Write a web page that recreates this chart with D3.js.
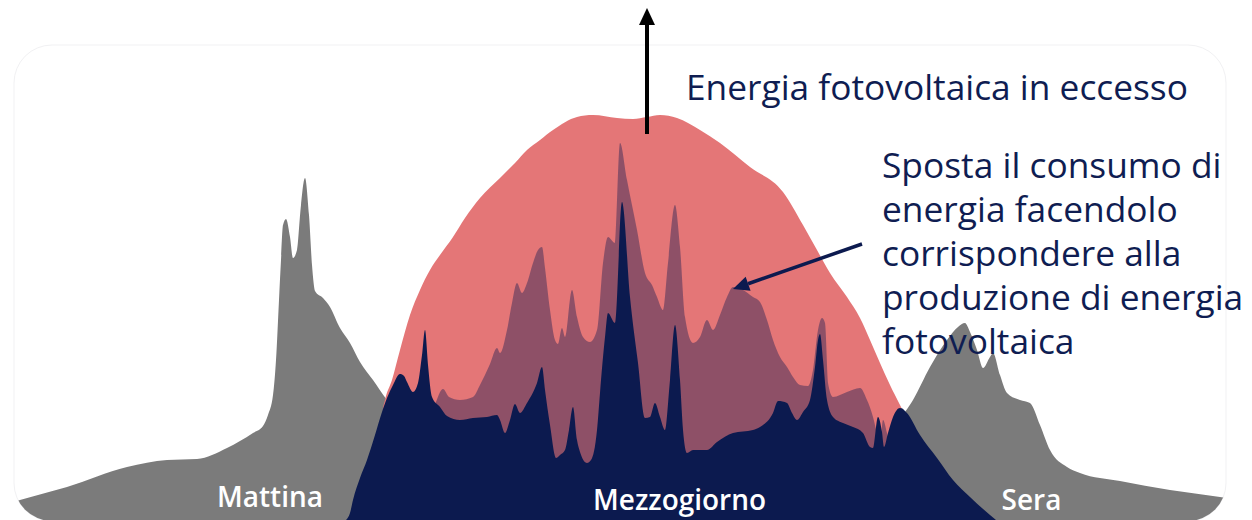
<!DOCTYPE html>
<html><head><meta charset="utf-8">
<script src="https://cdn.jsdelivr.net/npm/d3@7"></script>
<style>html,body{margin:0;padding:0;background:#fff;} svg{display:block;}</style>
</head><body>
<svg id="chart" width="1252" height="520"></svg>
<script>
// ---- DATA: [hour of day, power (arbitrary units)] ----
const consumoOriginale = [
  [-0.16,4.25],[0.04,5],[0.98,8.25],[2.18,13.25],[2.98,15],[3.58,15.25],[4.18,18],[4.70,21.75],
  [4.90,23.5],[5.00,26.25],[5.10,31.25],[5.16,40],[5.22,55],[5.26,65],[5.30,73.75],[5.36,75.25],
  [5.44,70.75],[5.50,65.5],[5.58,67.5],[5.66,78.75],[5.74,85.5],[5.82,76.25],[5.88,63.75],[5.94,57.25],
  [6.10,55.5],[6.24,53.25],[6.44,48],[6.64,44.25],[6.84,39.5],[7.10,35],[7.38,30],
  [8.04,22.5],[9.64,18.75],[12.64,16.25],[15.64,17.5],[17.24,22.5],
  [17.74,27],[17.90,30],[18.24,38.25],[18.58,45],[18.80,48.25],[18.94,49.25],[19.04,47],[19.18,42.5],
  [19.30,38],[19.44,40.75],[19.50,41.75],[19.64,36.25],[19.78,31.75],[20.04,30],[20.24,29.25],
  [20.44,23.75],[20.64,17.5],[20.98,13.25],[21.24,11.75],[22.04,9.75],[23.04,7.5],[24.04,5.75],[24.44,5]
];
const produzioneFV = [
  [7.20,0],[7.30,27.5],[7.34,30],[7.48,35],[7.64,42.5],[7.84,51.25],[8.04,57.5],[8.24,62.5],[8.44,66.25],
  [8.70,70.75],[8.94,75.5],[9.24,80.5],[9.64,85.5],[9.94,89.25],[10.18,92.5],[10.44,95],[10.70,97.5],
  [11.18,100.75],[11.50,101.25],[11.98,100.5],[12.30,100.25],[12.58,100.75],[12.84,101.25],[13.18,100.5],
  [13.64,97.5],[14.04,94.25],[14.64,88.25],[15.30,82],[15.70,73.75],[15.98,67.5],[16.24,61.75],
  [16.58,55.75],[16.84,50.5],[17.04,45],[17.24,39.25],[17.44,33.75],[17.64,28.75],[17.74,26.25],
  [17.94,20],[18.24,0]
];
const consumoSpostato = [
  [8.14,20],[8.36,29.5],[8.50,32.75],[8.62,30.75],[8.84,30],[9.10,30.75],[9.24,33.75],[9.44,39],
  [9.58,43],[9.64,41.75],[9.78,47.5],[9.88,54.25],[9.98,59.25],[10.08,56.75],[10.18,59.25],[10.30,64.25],
  [10.40,67.5],[10.48,68.25],[10.54,63],[10.64,52.5],[10.74,45],[10.80,44],[10.88,48],[10.94,45.75],
  [11.08,57.5],[11.18,50.75],[11.30,45.75],[11.44,44.5],[11.58,47.5],[11.70,64.25],[11.80,70.75],
  [11.94,69.25],[12.04,94.25],[12.18,85],[12.38,72.5],[12.54,61.75],[12.68,58.75],[12.78,55.75],
  [12.90,52.5],[13.00,64.25],[13.14,78.75],[13.24,68.25],[13.34,50.75],[13.50,44.25],[13.64,45.75],
  [13.78,50],[13.90,47.5],[14.04,51.25],[14.18,55.75],[14.30,58.25],[14.50,57.5],[14.70,55.75],
  [14.84,54.5],[14.98,50],[15.10,45],[15.24,40.75],[15.38,38.25],[15.50,35.75],[15.64,33.75],
  [15.80,33.5],[15.90,37.5],[16.00,47.5],[16.08,50.5],[16.14,49.25],[16.20,34.25],[16.30,30.75],
  [16.58,32],[16.84,33],[16.98,30],[17.10,25.75],[17.18,21.75],[17.24,19.25],[17.30,25],[17.38,21.75],
  [17.44,18.25],[17.50,23.25],[17.58,26.75],[17.68,28],[17.78,25.5],[17.94,17.5]
];
const autoconsumo = [
  [6.56,0],[6.64,1.75],[6.70,5],[6.84,10.5],[6.98,15],[7.14,21.25],[7.28,27],[7.38,30.5],[7.50,33.75],
  [7.64,36.5],[7.72,36],[7.78,34.5],[7.90,32],[8.00,34.25],[8.08,41.25],[8.14,47.5],[8.20,38.75],
  [8.28,30.75],[8.44,28.25],[8.58,26],[8.84,25],[9.10,25.5],[9.38,25.75],[9.58,26.25],[9.64,25],
  [9.74,21.75],[9.84,25],[9.94,29],[10.04,26.75],[10.18,29.25],[10.38,34.25],[10.48,38.25],[10.54,32.5],
  [10.64,23.75],[10.76,15.5],[10.84,16.25],[10.94,17.5],[11.02,22.5],[11.10,28.25],[11.18,20],[11.24,17],
  [11.38,14.25],[11.46,15],[11.58,22.5],[11.64,31.75],[11.74,45.75],[11.80,51.75],[11.94,49.25],
  [12.08,79.5],[12.24,55.75],[12.40,39.25],[12.54,25.5],[12.64,25.75],[12.74,29.25],[12.84,25.75],
  [12.94,22.5],[13.04,35],[13.14,48.75],[13.24,35],[13.30,22.5],[13.38,16.75],[13.50,17.5],[13.78,17.5],
  [13.98,19.5],[14.30,21.75],[14.70,22.5],[14.84,23.25],[15.10,26.75],[15.20,29.75],[15.38,29.25],
  [15.48,26.75],[15.58,25],[15.70,27],[15.84,30],[15.94,38.25],[16.00,45],[16.04,46.5],[16.10,40],
  [16.18,30],[16.30,25.75],[16.50,24.25],[16.70,23.25],[16.90,21.75],[17.04,18.25],[17.10,18],
  [17.20,25.75],[17.28,22],[17.32,18.25],[17.40,21.75],[17.50,25.75],[17.64,28],[17.78,26.75],
  [18.04,21.25],[18.38,15.5],[18.70,10],[19.04,5.75],[19.44,1.25],[19.56,0]
];
const etichetteTempo = [["Mattina",5.04],["Mezzogiorno",13.23],["Sera",20.27]];
const titoloEccesso = "Energia fotovoltaica in eccesso";
const testoSposta = ["Sposta il consumo di","energia facendolo","corrispondere alla","produzione di energia","fotovoltaica"];

// ---- STYLE ----
const C = {gray:"#7b7b7b", pink:"#e47677", navy:"#0c1a4f", text:"#0f1d52"};
const FONT = "'Open Sans','Noto Sans',sans-serif";

const svg = d3.select("#chart");
const x = d3.scaleLinear().domain([0,24]).range([18,1218]);
const y = d3.scaleLinear().domain([0,100]).range([520,120]);

// card
const card = {x:14, y:45, w:1212, h:476, r:38};
svg.append("rect").attr("x",card.x).attr("y",card.y).attr("width",card.w).attr("height",card.h)
  .attr("rx",card.r).attr("fill","#fff").attr("stroke","#f1f1f3").attr("stroke-width",1);
svg.append("clipPath").attr("id","cardClip").append("rect")
  .attr("x",card.x).attr("y",card.y).attr("width",card.w).attr("height",card.h).attr("rx",card.r);

const g = svg.append("g").attr("clip-path","url(#cardClip)");
const area = d3.area().x(d=>x(d[0])).y0(y(-3)).y1(d=>y(d[1])).curve(d3.curveMonotoneX);

g.append("path").datum(consumoOriginale).attr("d",area).attr("fill",C.gray);
g.append("path").datum(produzioneFV).attr("d",area).attr("fill",C.pink);
g.append("path").datum(consumoSpostato).attr("d",area).attr("fill",C.navy).attr("fill-opacity",0.4);
g.append("path").datum(autoconsumo).attr("d",area).attr("fill",C.navy);

// time labels
const lab = svg.append("g").attr("font-family",FONT).attr("font-weight",600).attr("fill","#fff")
  .attr("text-anchor","middle");
const labs = lab.selectAll("text").data(etichetteTempo).join("text")
  .attr("x",d=>x(d[1])).attr("y",(d,i)=>i===0?507:510).attr("font-size",24).text(d=>d[0]);
{ const n = labs.nodes()[1]; const w = n.getComputedTextLength(); labs.attr("font-size", 24*173/w); }

// up arrow
svg.append("line").attr("x1",647).attr("y1",134).attr("x2",647).attr("y2",22)
  .attr("stroke","#000").attr("stroke-width",4);
svg.append("path").attr("d","M639,25 L655,25 L647,8 Z").attr("fill","#000");

function fit(sel, target){ const w = sel.node().getComputedTextLength(); const fs = +sel.attr("font-size"); sel.attr("font-size", fs*target/w); return fs*target/w; }

const t1 = svg.append("text").attr("x",686).attr("y",100).attr("font-family",FONT).attr("font-size",32)
  .attr("fill",C.text).text(titoloEccesso);
fit(t1, 502);

// multi-line annotation
const tl = svg.append("g").attr("font-family",FONT).attr("fill",C.text);
const lines = tl.selectAll("text").data(testoSposta).join("text")
  .attr("x",882).attr("y",(d,i)=>178+i*44).attr("font-size",32).text(d=>d);
{ const w0 = lines.nodes()[0].getComputedTextLength(); const w3 = lines.nodes()[3].getComputedTextLength();
  const fs = 32*((341/w0)+(360/w3))/2; lines.attr("font-size",fs); }

// navy arrow
{ const tip=[733,289], tail=[862,244];
  const dx=tail[0]-tip[0], dy=tail[1]-tip[1], L=Math.hypot(dx,dy), ux=dx/L, uy=dy/L;
  const hl=16, hw=7.5; const bx=tip[0]+ux*hl, by=tip[1]+uy*hl;
  svg.append("line").attr("x1",tail[0]).attr("y1",tail[1]).attr("x2",bx).attr("y2",by)
    .attr("stroke",C.navy).attr("stroke-width",3.5);
  svg.append("path").attr("d",`M${tip[0]},${tip[1]} L${bx-uy*hw},${by+ux*hw} L${bx+uy*hw},${by-ux*hw} Z`).attr("fill",C.navy);
}
</script>
</body></html>
